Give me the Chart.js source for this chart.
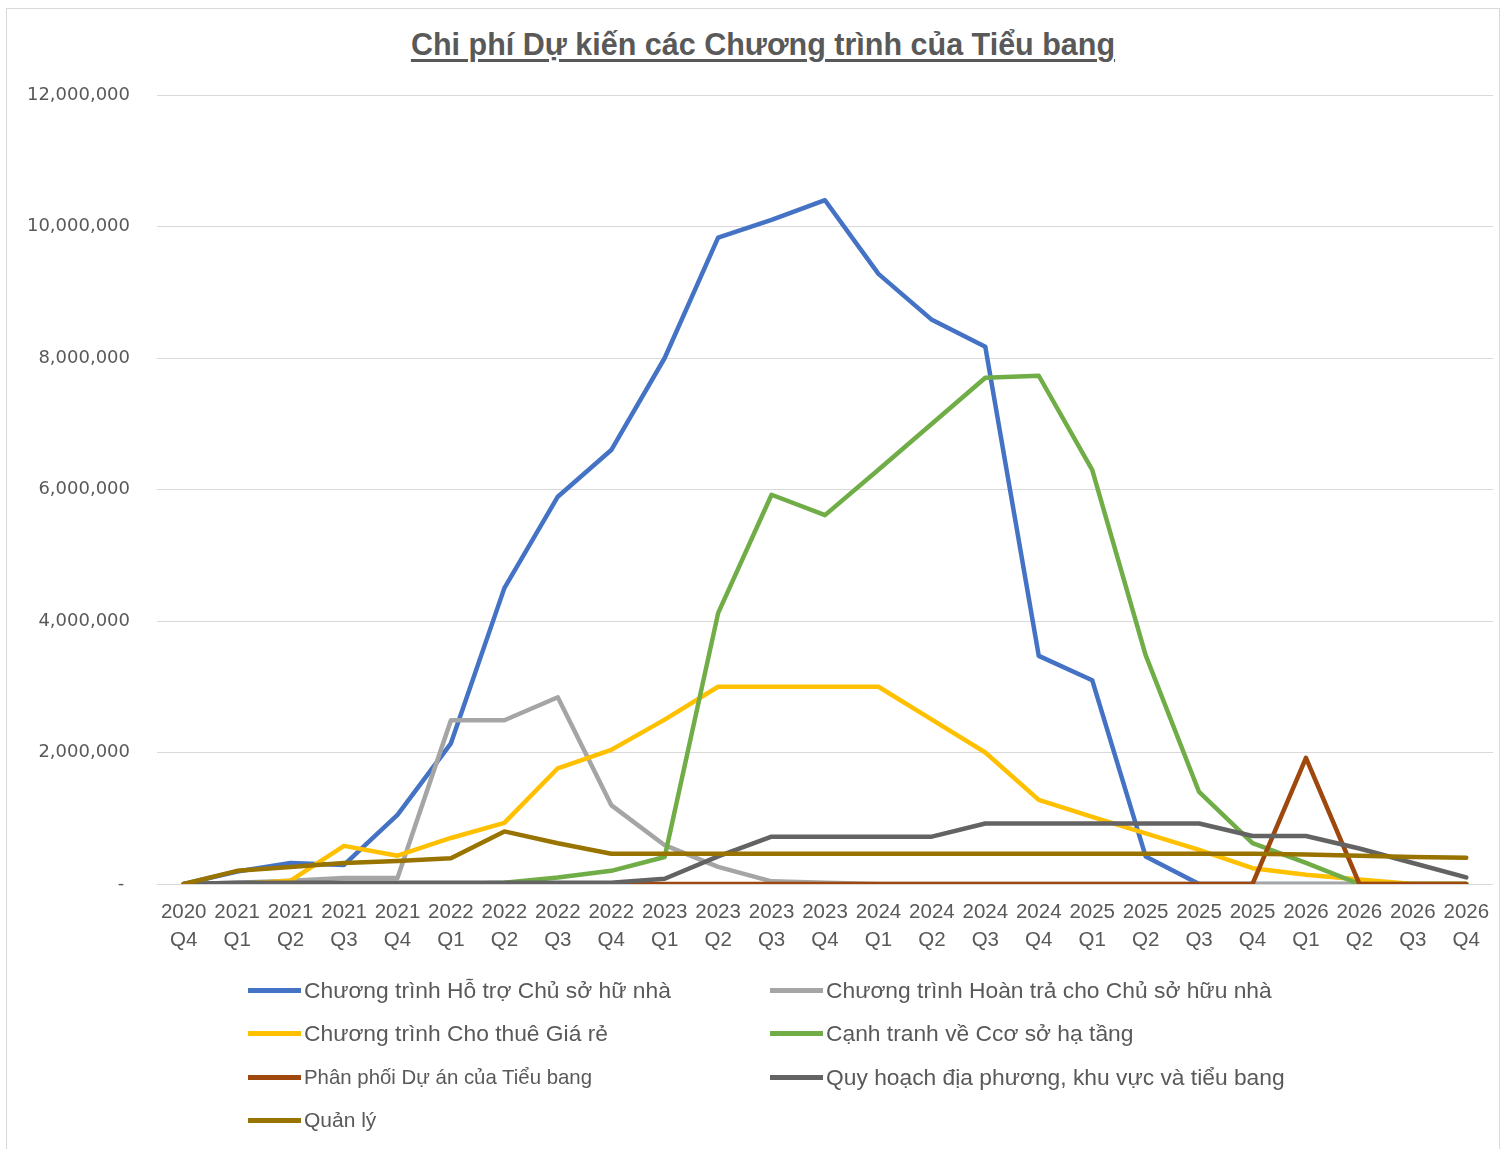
<!DOCTYPE html>
<html>
<head>
<meta charset="utf-8">
<script src="https://cdn.jsdelivr.net/npm/chart.js@4.4.1/dist/chart.umd.min.js"></script>
<style>
  html, body { margin: 0; padding: 0; background: #fff; }
  body { width: 1500px; height: 1149px; position: relative; overflow: hidden; }
  #frame { position: absolute; left: 6px; top: 8px; width: 1494px; height: 1145px; border: 1px solid #d9d9d9; box-sizing: border-box; }
  #title { position: absolute; left: 0; width: 1526px; top: 27px; text-align: center;
           font-family: "Liberation Sans", Arial, sans-serif; font-weight: bold;
           font-size: 30.5px; color: #595959; text-decoration: underline; text-decoration-thickness: 3px; text-underline-offset: 4px; }
  #wrap { position: absolute; left: 0; top: 0; width: 1500px; height: 960px; }
  #legend { position: absolute; left: 0; top: 0; width: 1500px; height: 1149px; pointer-events: none; }
  .item { position: absolute; display: flex; align-items: center; height: 30px; color: #595959;
          font-family: "Liberation Sans", Arial, sans-serif; font-size: 22.8px; white-space: nowrap; }
  .sw { width: 53px; height: 5px; margin-right: 3px; }
</style>
</head>
<body>
<div id="frame"></div>
<div id="title">Chi phí Dự kiến các Chương trình của Tiểu bang</div>
<div id="wrap"><canvas id="c" width="1500" height="960"></canvas></div>
<div id="legend"></div>
<script>
const categories = [
  ['2020','Q4'],['2021','Q1'],['2021','Q2'],['2021','Q3'],['2021','Q4'],
  ['2022','Q1'],['2022','Q2'],['2022','Q3'],['2022','Q4'],
  ['2023','Q1'],['2023','Q2'],['2023','Q3'],['2023','Q4'],
  ['2024','Q1'],['2024','Q2'],['2024','Q3'],['2024','Q4'],
  ['2025','Q1'],['2025','Q2'],['2025','Q3'],['2025','Q4'],
  ['2026','Q1'],['2026','Q2'],['2026','Q3'],['2026','Q4']
];
const seriesNames = [
  'Chương trình Hỗ trợ Chủ sở hữ nhà',
  'Chương trình Hoàn trả cho Chủ sở hữu nhà',
  'Chương trình Cho thuê Giá rẻ',
  'Cạnh tranh về Ccơ sở hạ tầng',
  'Phân phối Dự án của Tiểu bang',
  'Quy hoạch địa phương, khu vực và tiểu bang',
  'Quản lý'
];
const hoTro     = [0,190000,320000,290000,1050000,2140000,4500000,5890000,6600000,8000000,9830000,10100000,10400000,9280000,8580000,8170000,3470000,3100000,420000,0,0,0,0,0,0];
const hoanTra   = [0,20000,50000,90000,90000,2490000,2490000,2840000,1200000,590000,260000,40000,20000,0,0,0,0,0,0,0,0,0,0,0,0];
const choThue   = [0,0,50000,580000,430000,700000,930000,1760000,2040000,2500000,3000000,3000000,3000000,3000000,2500000,2000000,1280000,1020000,770000,520000,240000,140000,70000,0,0];
const coSoHaTang= [0,0,0,0,0,0,20000,100000,200000,410000,4120000,5920000,5610000,6300000,7000000,7700000,7730000,6300000,3480000,1400000,620000,320000,0,0,0];
const phanPhoi  = [0,0,0,0,0,0,0,0,0,0,0,0,0,0,0,0,0,0,0,0,0,1920000,0,0,0];
const quyHoach  = [0,20000,20000,20000,20000,20000,20000,20000,20000,80000,420000,720000,720000,720000,720000,920000,920000,920000,920000,920000,730000,730000,540000,320000,100000];
const quanLy    = [0,200000,260000,320000,350000,390000,800000,620000,460000,460000,460000,460000,460000,460000,460000,460000,460000,460000,460000,460000,460000,450000,430000,410000,400000];
const yTicks = [0,2000000,4000000,6000000,8000000,10000000,12000000];

const seriesData = [hoTro, hoanTra, choThue, coSoHaTang, phanPhoi, quyHoach, quanLy];
const seriesColors = ['#4472C4','#A5A5A5','#FFC000','#70AD47','#9E480E','#636363','#997300'];

const datasets = seriesNames.map((name, i) => ({
  label: name,
  data: seriesData[i],
  borderColor: seriesColors[i],
  backgroundColor: seriesColors[i],
  borderWidth: 4.5,
  pointRadius: 0,
  tension: 0,
  fill: false,
  order: seriesNames.length - i,
  borderJoinStyle: 'round',
  borderCapStyle: 'round'
}));

new Chart(document.getElementById('c'), {
  type: 'line',
  data: { labels: categories, datasets },
  options: {
    responsive: false,
    animation: false,
    layout: { autoPadding: false, padding: { top: 95, right: 7, left: 0, bottom: 0 } },
    plugins: { legend: { display: false }, title: { display: false }, tooltip: { enabled: false } },
    scales: {
      x: {
        offset: true,
        grid: { display: false, drawTicks: false },
        border: { display: false },
        ticks: { color: '#595959', font: { family: '"Liberation Sans", Arial', size: 20.5, lineHeight: 1.37 },
                 padding: 14, maxRotation: 0, autoSkip: false },
        afterFit: s => { s.height = 76; s.paddingLeft = 0; s.paddingRight = 0; }
      },
      y: {
        min: 0, max: 12000000,
        afterBuildTicks: s => { s.ticks = yTicks.map(v => ({ value: v })); },
        grid: { color: '#d9d9d9', lineWidth: 1, drawTicks: false },
        border: { display: false },
        ticks: { color: '#595959', font: { family: '"DejaVu Sans", Verdana', size: 18 }, padding: 27,
                 callback: v => v === 0 ? '- ' : v.toLocaleString('en-US') },
        afterFit: s => { s.width = 157; }
      }
    }
  }
});

// HTML legend built from series names/colours
const legendPos = [[248, 975],[770, 975],[248, 1018],[770, 1018],[248, 1062],[770, 1062],[248, 1105]];
const legend = document.getElementById('legend');
seriesNames.forEach((name, i) => {
  const it = document.createElement('div');
  it.className = 'item';
  it.style.left = legendPos[i][0] + 'px';
  it.style.top = legendPos[i][1] + 'px';
  if (i === 4) it.style.fontSize = '20.4px';
  if (i === 6) it.style.fontSize = '21px';
  const sw = document.createElement('span');
  sw.className = 'sw';
  sw.style.background = seriesColors[i];
  const tx = document.createElement('span');
  tx.textContent = name;
  it.appendChild(sw); it.appendChild(tx);
  legend.appendChild(it);
});
</script>
</body>
</html>
